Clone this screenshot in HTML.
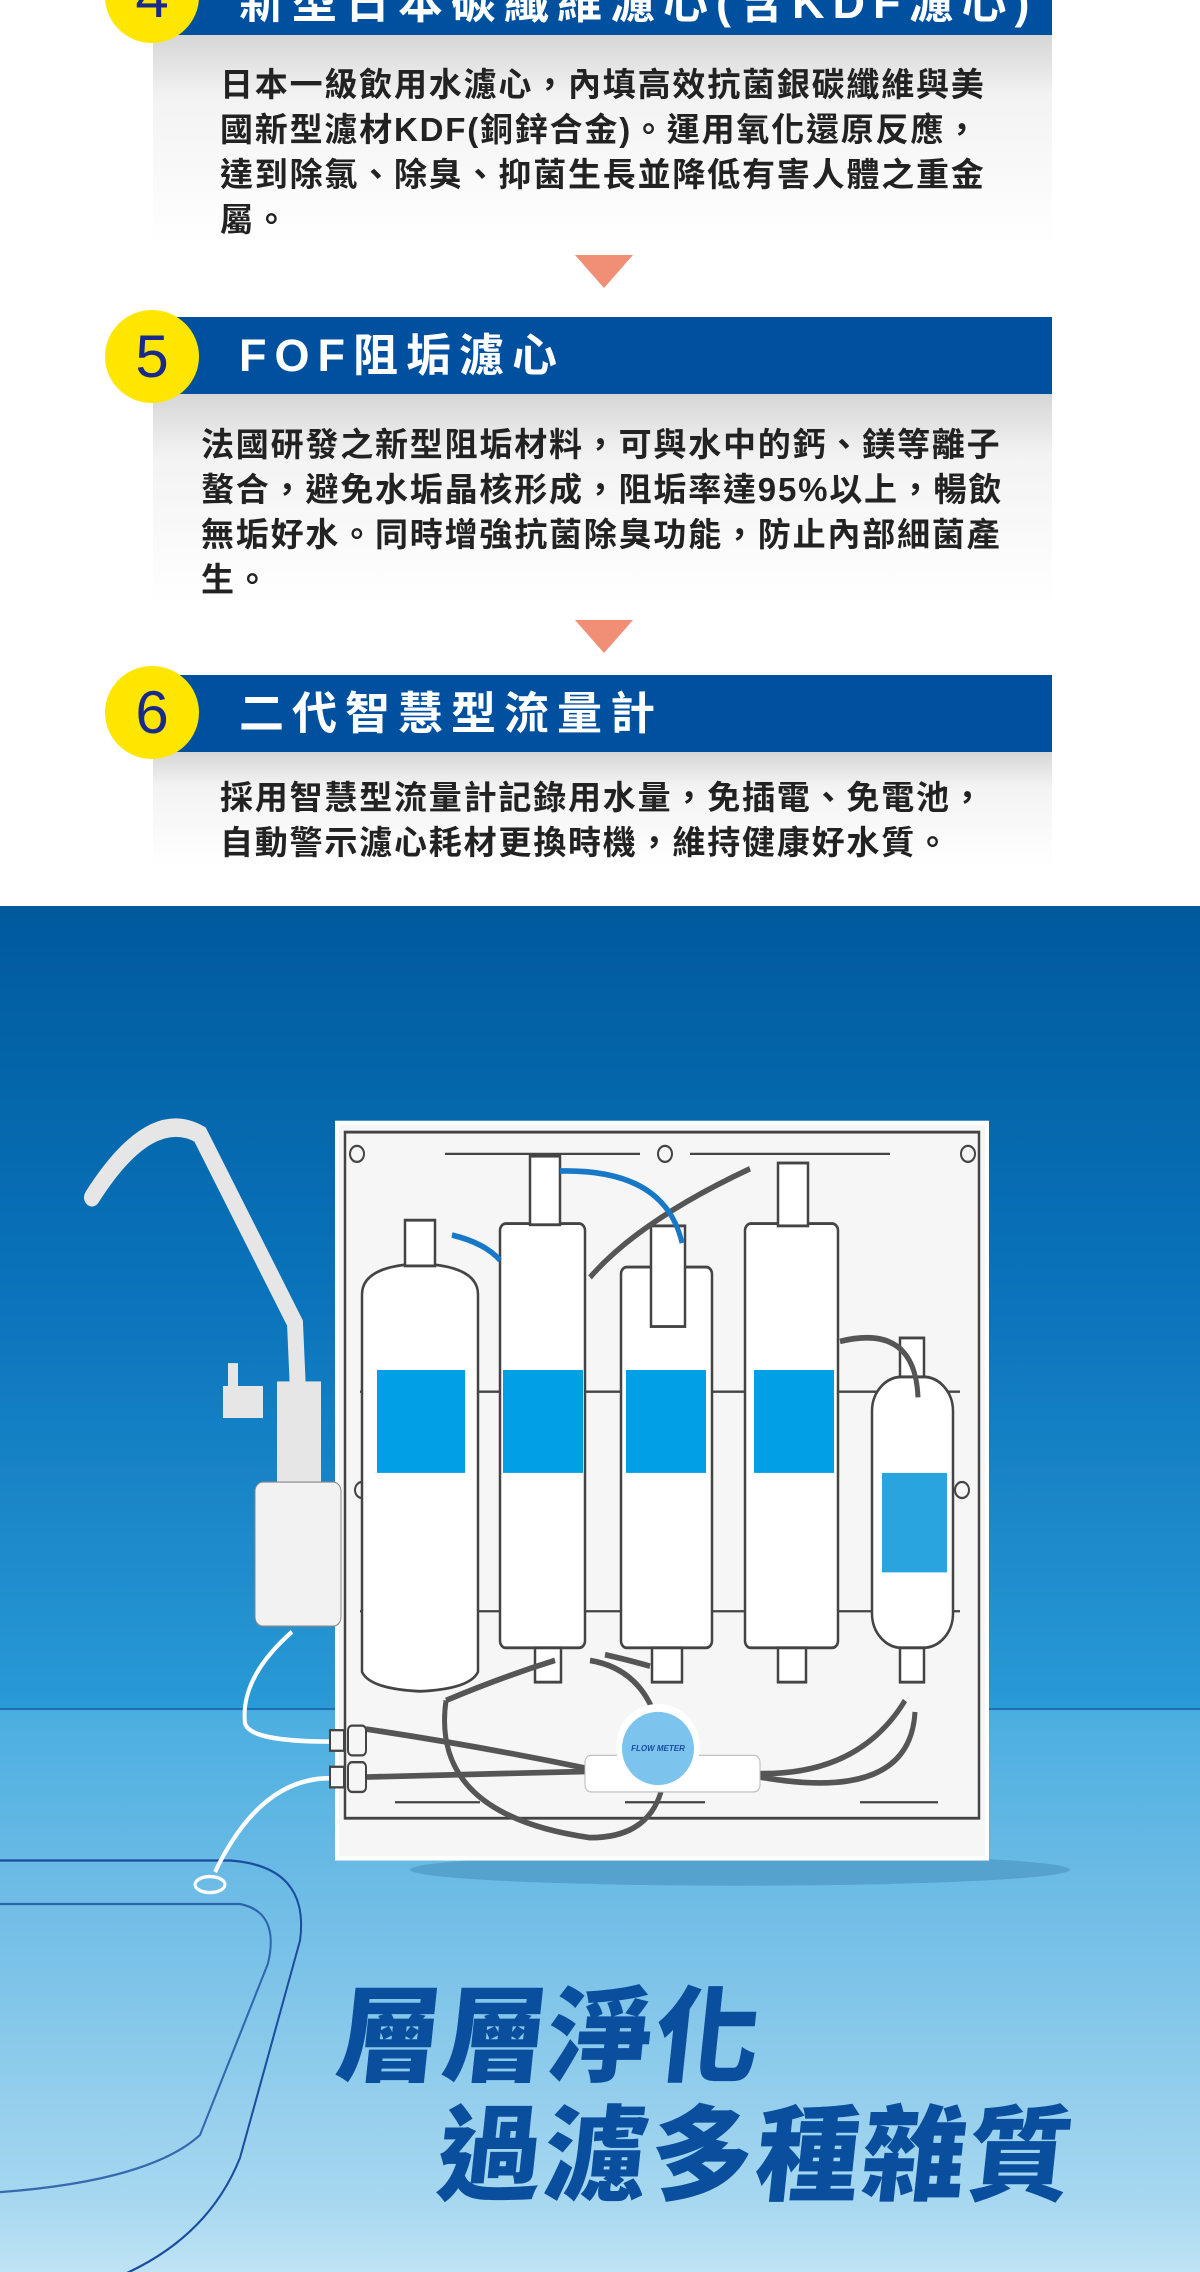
<!DOCTYPE html>
<html><head><meta charset="utf-8"><style>
*{margin:0;padding:0;box-sizing:border-box}
body{width:1200px;height:2272px;background:#fff;position:relative;overflow:hidden;font-family:"Liberation Sans","Noto Sans CJK TC",sans-serif}
.bar{position:absolute;left:153px;width:899px;background:#0050a0}
.circ{position:absolute;width:94px;height:93px;border-radius:50%;background:#ffe600;color:#1a2a8a;font-size:60px;text-align:center;line-height:93px;left:105px;font-family:"Liberation Sans",sans-serif}
.title{position:absolute;left:239px;color:#fff;font-weight:bold;font-size:45px;letter-spacing:8px;white-space:nowrap;line-height:50px}
.panel{position:absolute;left:153px;width:899px;background:linear-gradient(#d6d6d6,#f3f3f3 30%,#fff)}
.txt{position:absolute;font-size:33px;font-weight:bold;color:#222;line-height:45px;white-space:nowrap;letter-spacing:1.8px}
.tri{position:absolute;left:575px;width:0;height:0;border-left:29px solid transparent;border-right:29px solid transparent;border-top:33px solid #f08f75}
.big{position:absolute;color:#0a4e9e;font-weight:900;font-size:104px;white-space:nowrap;transform:skewX(-6deg);letter-spacing:2px;line-height:120px}
</style></head><body>
<div class="panel" style="top:35px;height:210px"></div>
<div class="bar" style="top:-40px;height:75px"></div>
<div class="circ" style="top:-50px">4</div>
<div class="title" style="top:-22px">新型日本碳纖維濾心(含KDF濾心)</div>
<div class="txt" style="left:220px;top:62px">日本一級飲用水濾心，內填高效抗菌銀碳纖維與美<br>國新型濾材KDF(銅鋅合金)。運用氧化還原反應，<br>達到除氯、除臭、抑菌生長並降低有害人體之重金<br>屬。</div>
<div class="tri" style="top:255px"></div>
<div class="panel" style="top:394px;height:210px"></div>
<div class="bar" style="top:317px;height:77px"></div>
<div class="circ" style="top:310px">5</div>
<div class="title" style="top:331px">FOF阻垢濾心</div>
<div class="txt" style="left:201px;top:422px">法國研發之新型阻垢材料，可與水中的鈣、鎂等離子<br>螯合，避免水垢晶核形成，阻垢率達95%以上，暢飲<br>無垢好水。同時增強抗菌除臭功能，防止內部細菌產<br>生。</div>
<div class="tri" style="top:620px"></div>
<div class="panel" style="top:752px;height:115px"></div>
<div class="bar" style="top:675px;height:77px"></div>
<div class="circ" style="top:666px">6</div>
<div class="title" style="top:689px">二代智慧型流量計</div>
<div class="txt" style="left:220px;top:775px">採用智慧型流量計記錄用水量，免插電、免電池，<br>自動警示濾心耗材更換時機，維持健康好水質。</div>
<div style="position:absolute;left:0;top:906px;width:1200px;height:1366px;background:linear-gradient(#005a9c 0px,#0a74bc 400px,#2a9ad6 802px,#4aaee0 805px,#70bde6 1000px,#a8d8f0 1300px,#bfe3f4 1366px)"></div>
<svg style="position:absolute;left:0;top:0" width="1200" height="2272" viewBox="0 0 1200 2272">
<line x1="0" y1="1709" x2="1200" y2="1709" stroke="#1a5fa8" stroke-width="1.5"/>
<g transform="matrix(1 0 0 1.1435 0 -129.15)">
<path d="M0 1740 L230 1740 Q310 1745 300 1810 L240 2000 Q190 2110 0 2130" fill="none" stroke="#1a4d9e" stroke-width="2"/>
<path d="M0 1778 L240 1778 Q280 1785 268 1830 L200 1980 Q150 2020 0 2030" fill="none" stroke="#1a4d9e" stroke-width="2" opacity="0.8"/>
<ellipse cx="210" cy="1761" rx="15" ry="7" fill="none" stroke="#fff" stroke-width="3"/>
<ellipse cx="740" cy="1748" rx="330" ry="14" fill="#3f86b4" opacity="0.45"/>
<rect x="337" y="1095" width="650" height="643" fill="#f6f6f6" stroke="#fff" stroke-width="4"/>
<rect x="345" y="1103" width="634" height="600" fill="none" stroke="#444" stroke-width="2.5"/>
<circle cx="357" cy="1122" r="7" fill="none" stroke="#444" stroke-width="2"/>
<circle cx="665" cy="1122" r="7" fill="none" stroke="#444" stroke-width="2"/>
<circle cx="968" cy="1122" r="7" fill="none" stroke="#444" stroke-width="2"/>
<circle cx="362" cy="1416" r="7" fill="none" stroke="#444" stroke-width="2"/>
<circle cx="962" cy="1416" r="7" fill="none" stroke="#444" stroke-width="2"/>
<line x1="395" y1="1689" x2="480" y2="1689" stroke="#444" stroke-width="2"/>
<line x1="625" y1="1689" x2="705" y2="1689" stroke="#444" stroke-width="2"/>
<line x1="860" y1="1689" x2="938" y2="1689" stroke="#444" stroke-width="2"/>
<line x1="445" y1="1122" x2="640" y2="1122" stroke="#444" stroke-width="2"/>
<line x1="690" y1="1122" x2="890" y2="1122" stroke="#444" stroke-width="2"/>
<line x1="360" y1="1330" x2="960" y2="1330" stroke="#444" stroke-width="2"/>
<line x1="360" y1="1522" x2="960" y2="1522" stroke="#444" stroke-width="2"/>
<g fill="#fff" stroke="#444" stroke-width="2.5">
<path d="M362 1245 Q362 1220 420 1218 Q478 1220 478 1245 L478 1575 Q470 1590 420 1592 Q370 1590 362 1575 Z"/>
<rect x="405" y="1180" width="30" height="40"/>
<rect x="500" y="1183" width="85" height="371" rx="6"/>
<rect x="530" y="1124" width="30" height="60"/>
<rect x="535" y="1554" width="26" height="30"/>
<rect x="621" y="1221" width="91" height="333" rx="6"/>
<rect x="651" y="1185" width="34" height="88"/>
<rect x="652" y="1554" width="30" height="30"/>
<rect x="745" y="1183" width="93" height="371" rx="6"/>
<rect x="778" y="1130" width="30" height="55"/>
<rect x="778" y="1554" width="28" height="30"/>
<rect x="872" y="1317" width="81" height="237" rx="30"/>
<rect x="900" y="1283" width="24" height="34"/>
<rect x="900" y="1554" width="24" height="30"/>
</g>
<g fill="#009fe6">
<rect x="377" y="1311" width="88" height="90"/>
<rect x="503" y="1311" width="80" height="90"/>
<rect x="626" y="1311" width="80" height="90"/>
<rect x="754" y="1311" width="80" height="90"/>
<rect x="882" y="1401" width="65" height="87" fill="#2aa4de"/>
</g>
<g fill="none" stroke="#555" stroke-width="5">
<path d="M446 1600 Q500 1580 555 1565"/>
<path d="M446 1600 Q430 1700 590 1720 Q660 1720 665 1660 Q660 1575 590 1565"/>
<path d="M366 1625 Q480 1640 590 1660"/>
<path d="M366 1667 Q480 1664 590 1662"/>
<path d="M760 1664 Q860 1665 905 1600"/>
<path d="M760 1667 Q910 1690 915 1610"/>
<path d="M840 1286 Q915 1270 918 1335"/>
<path d="M590 1230 Q640 1180 750 1135"/>
<path d="M605 1560 Q630 1565 650 1570"/>
</g>
<g fill="none" stroke="#1878c8" stroke-width="5">
<path d="M452 1193 Q485 1200 500 1215"/>
<path d="M560 1137 Q665 1135 682 1200"/>
</g>
<rect x="585" y="1648" width="175" height="32" rx="6" fill="#fff" stroke="#bbb"/>
<ellipse cx="658" cy="1640" rx="42" ry="37" fill="#fff"/>
<ellipse cx="658" cy="1642" rx="36" ry="32" fill="#7cc4ee"/>
<path d="M92 1160 Q150 1080 200 1105 L295 1270 L298 1330" fill="none" stroke="#e6e6e6" stroke-width="16" stroke-linecap="round"/>
<rect x="223" y="1325" width="40" height="28" fill="#e6e6e6"/>
<rect x="228" y="1305" width="10" height="25" fill="#e6e6e6"/>
<rect x="277" y="1321" width="44" height="90" fill="#e6e6e6"/>
<rect x="255" y="1409" width="86" height="126" rx="8" fill="#f2f2f2" stroke="#888"/>
<path d="M292 1540 Q240 1580 245 1620 Q250 1636 330 1636" fill="none" stroke="#fff" stroke-width="4"/>
<path d="M330 1668 Q260 1668 215 1750" fill="none" stroke="#fff" stroke-width="4"/>
<g fill="#f6f6f6" stroke="#444" stroke-width="2">
<rect x="330" y="1626" width="14" height="18"/><rect x="330" y="1658" width="14" height="18"/>
<rect x="348" y="1622" width="18" height="26" rx="4"/><rect x="348" y="1654" width="18" height="26" rx="4"/>
</g>
</g>
<text x="658" y="1751" font-size="8" font-weight="bold" fill="#1a4d9e" text-anchor="middle" font-style="italic">FLOW METER</text>
</svg>
<div class="big" style="left:337px;top:1978px">層層淨化</div>
<div class="big" style="left:438px;top:2097px">過濾多種雜質</div>
</body></html>
